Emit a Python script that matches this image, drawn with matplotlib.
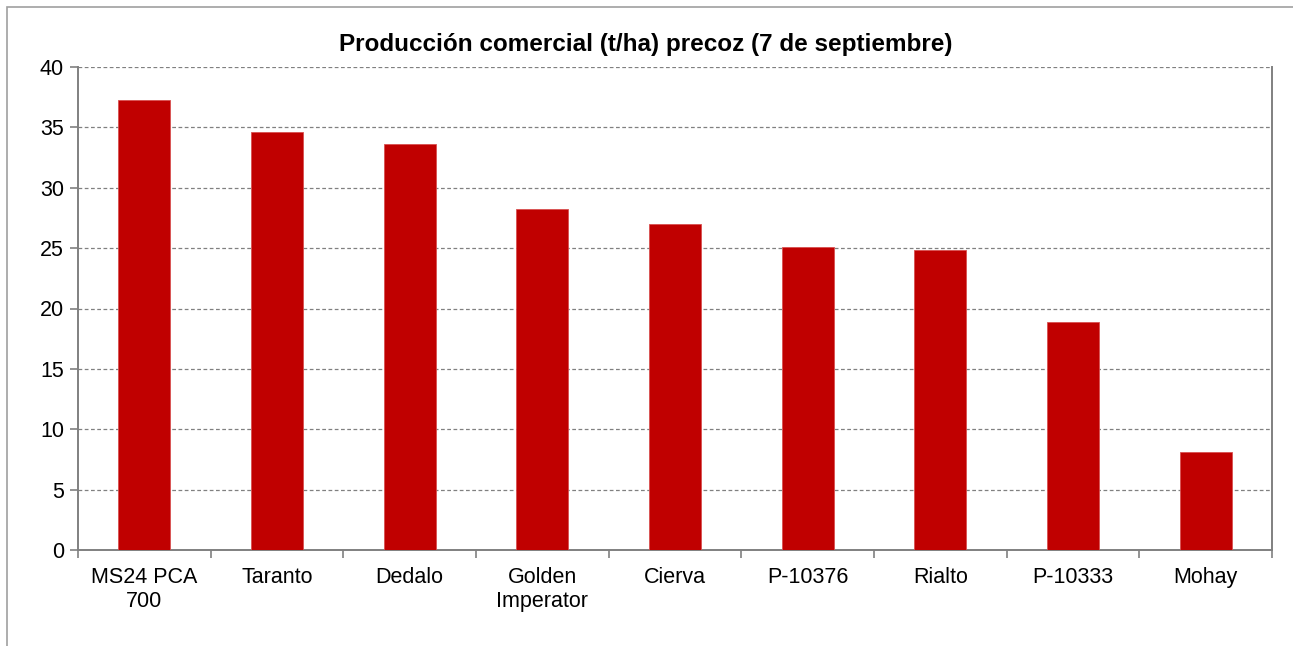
import matplotlib.pyplot as plt
import matplotlib.patches as patches
import numpy as np

plt.rcParams['font.family'] = ['Liberation Sans', 'DejaVu Sans']

# data
categorias = ['MS24 PCA\n700', 'Taranto', 'Dedalo', 'Golden\nImperator', 'Cierva',
              'P-10376', 'Rialto', 'P-10333', 'Mohay']
produccion = [37.27, 34.59, 33.6, 28.24, 27.0, 25.1, 24.84, 18.88, 8.14]

W, H = 1293, 646
fig = plt.figure(figsize=(W / 100, H / 100), dpi=100)

# outer chart border (runs off the image right and bottom)
fig.patches.append(patches.Rectangle((7 / W, -0.1), 1.2, 1 - 7 / H + 0.1,
                                     transform=fig.transFigure, fill=False,
                                     edgecolor='#a0a0a0', linewidth=1.2))

ax = fig.add_axes([78 / W, 1 - 550 / H, (1272 - 78) / W, (550 - 67) / H])

x = np.arange(len(categorias))
ax.bar(x, produccion, width=0.39, color='#C00000', edgecolor='#d85050',
       linewidth=0.6, zorder=3)

ax.set_xlim(-0.5, len(categorias) - 0.5)
ax.set_ylim(0, 40)
ax.set_yticks(np.arange(0, 41, 5))
ax.yaxis.grid(True, linestyle=(0, (3, 2)), color='#808080', linewidth=0.9, zorder=0)

ax.set_xticks(x)
ax.set_xticklabels(categorias, fontsize=15.5, linespacing=1.2)
ax.set_xticks(np.arange(-0.5, len(categorias), 1), minor=True)
ax.tick_params(axis='x', which='major', length=0, pad=12)
ax.tick_params(axis='x', which='minor', length=6, color='#808080', width=1.2)
ax.tick_params(axis='y', length=6, color='#808080', width=1.2, labelsize=15.5, pad=4)

for s in ['left', 'bottom', 'right']:
    ax.spines[s].set_color('#808080')
    ax.spines[s].set_linewidth(1.4)
ax.spines['top'].set_visible(False)

fig.text(646 / W, 1 - 45 / H, 'Producción comercial (t/ha) precoz (7 de septiembre)',
         ha='center', va='center', fontsize=17.5, fontweight='bold')

fig.savefig('out.png', dpi=100)
